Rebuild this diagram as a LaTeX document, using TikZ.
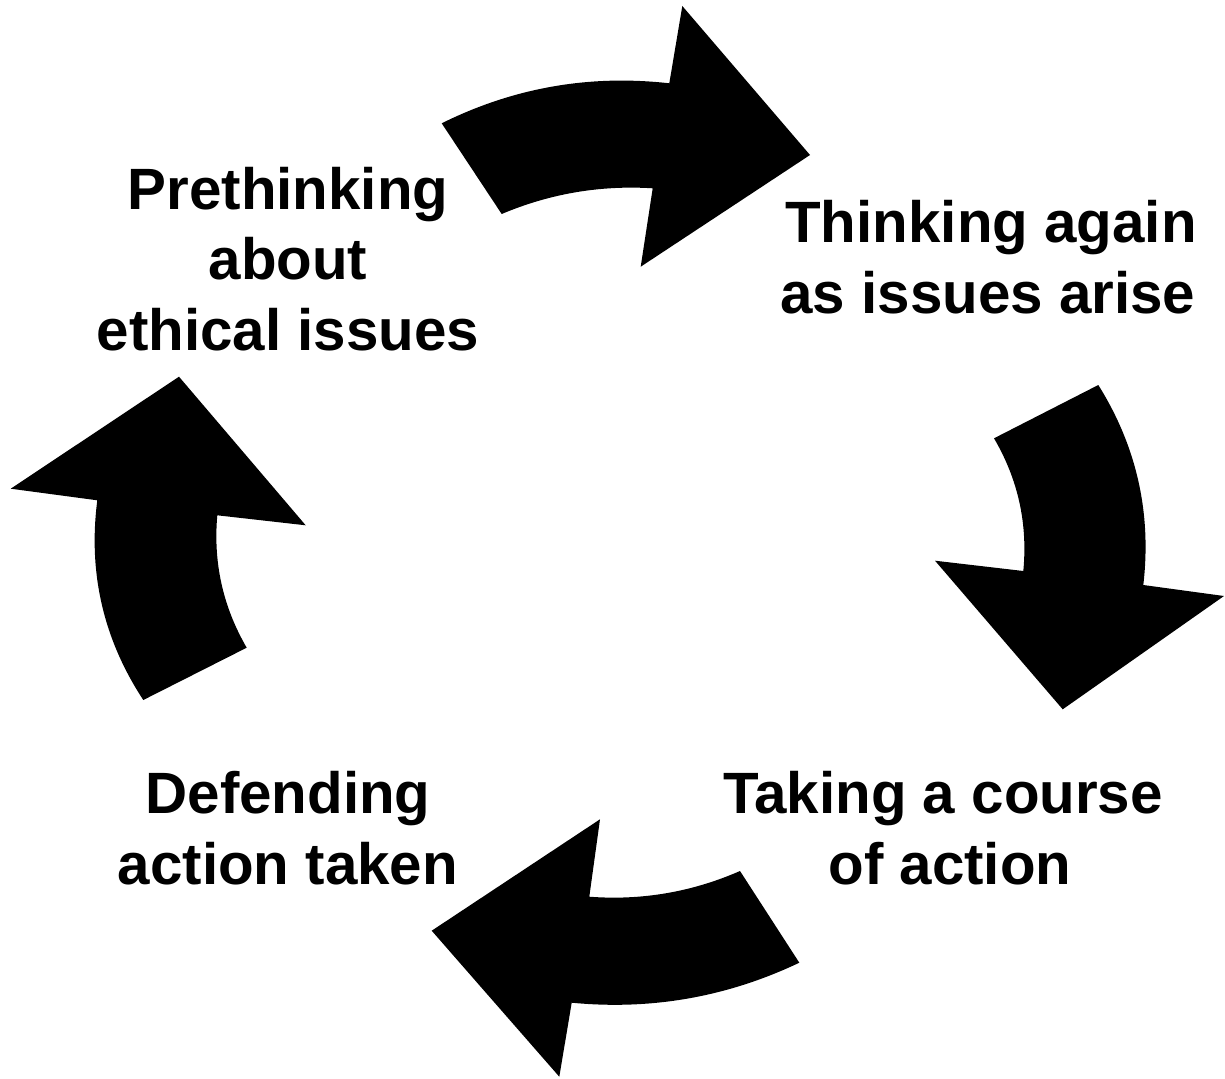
\documentclass[tikz,border=0pt]{standalone}
\usepackage{fontspec}
\setmainfont{Liberation Sans}
\usetikzlibrary{calc}
\begin{document}
\begin{tikzpicture}[x=1pt,y=-1pt,
  arrowfill/.style={fill=black,draw=none},
  txt/.style={font=\fontsize{58.3}{70.5}\selectfont\bfseries, align=center, inner sep=0pt}]
\useasboundingbox (0,0) rectangle (1225,1078);
% top arrow
\coordinate (t1) at (441.7,123.3);
\coordinate (tc1) at (549.6,69.8);
\coordinate (t2) at (669.3,83.3);
\coordinate (t3) at (682.3,6);
\coordinate (t4) at (810,155);
\coordinate (t5) at (640.7,266.7);
\coordinate (t6) at (652.7,188.3);
\coordinate (tc2) at (574.2,183.4);
\coordinate (t7) at (501.7,214);
\fill[arrowfill] (t1) .. controls ($(t1)!0.6667!(tc1)$) and ($(t2)!0.6667!(tc1)$) .. (t2) -- (t3) -- (t4) -- (t5) -- (t6) .. controls ($(t6)!0.6667!(tc2)$) and ($(t7)!0.6667!(tc2)$) .. (t7) -- cycle;
% right arrow
\coordinate (r1) at (1098.3,385);
\coordinate (rc1) at (1155.9,477.1);
\coordinate (r2) at (1143.3,585);
\coordinate (r3) at (1224,596);
\coordinate (r4) at (1062.7,709.3);
\coordinate (r5) at (935,560.7);
\coordinate (r6) at (1023.3,571);
\coordinate (rc2) at (1030.1,499.9);
\coordinate (r7) at (994,438.3);
\fill[arrowfill] (r1) .. controls ($(r1)!0.6667!(rc1)$) and ($(r2)!0.6667!(rc1)$) .. (r2) -- (r3) -- (r4) -- (r5) -- (r6) .. controls ($(r6)!0.6667!(rc2)$) and ($(r7)!0.6667!(rc2)$) .. (r7) -- cycle;
% bottom arrow
\coordinate (b1) at (799.3,962.7);
\coordinate (bc1) at (691,1014.2);
\coordinate (b2) at (571.7,1002.7);
\coordinate (b3) at (559.3,1076.7);
\coordinate (b4) at (431.7,930.7);
\coordinate (b5) at (600,819.3);
\coordinate (b6) at (589.3,896.7);
\coordinate (bc2) at (667.8,902.6);
\coordinate (b7) at (740,871);
\fill[arrowfill] (b1) .. controls ($(b1)!0.6667!(bc1)$) and ($(b2)!0.6667!(bc1)$) .. (b2) -- (b3) -- (b4) -- (b5) -- (b6) .. controls ($(b6)!0.6667!(bc2)$) and ($(b7)!0.6667!(bc2)$) .. (b7) -- cycle;
% left arrow
\coordinate (l1) at (143.3,700);
\coordinate (lc1) at (83.3,608.7);
\coordinate (l2) at (97.3,500.3);
\coordinate (l3) at (10.7,488.7);
\coordinate (l4) at (179,376.7);
\coordinate (l5) at (305.7,525.3);
\coordinate (l6) at (217.3,515.3);
\coordinate (lc2) at (211,586.2);
\coordinate (l7) at (246.7,647.7);
\fill[arrowfill] (l1) .. controls ($(l1)!0.6667!(lc1)$) and ($(l2)!0.6667!(lc1)$) .. (l2) -- (l3) -- (l4) -- (l5) -- (l6) .. controls ($(l6)!0.6667!(lc2)$) and ($(l7)!0.6667!(lc2)$) .. (l7) -- cycle;
% labels
\node[txt] (pre) at (288,259) {Prethinking\\about\\ethical issues};
\node[txt] (think) at (988,257) {\hspace*{6pt}Thinking again\\as issues arise};
\node[txt] (take) at (943,828) {Taking a course\\\hspace*{14pt}of action};
\node[txt] (def) at (288,828) {Defending\\action taken};
\end{tikzpicture}
\end{document}
